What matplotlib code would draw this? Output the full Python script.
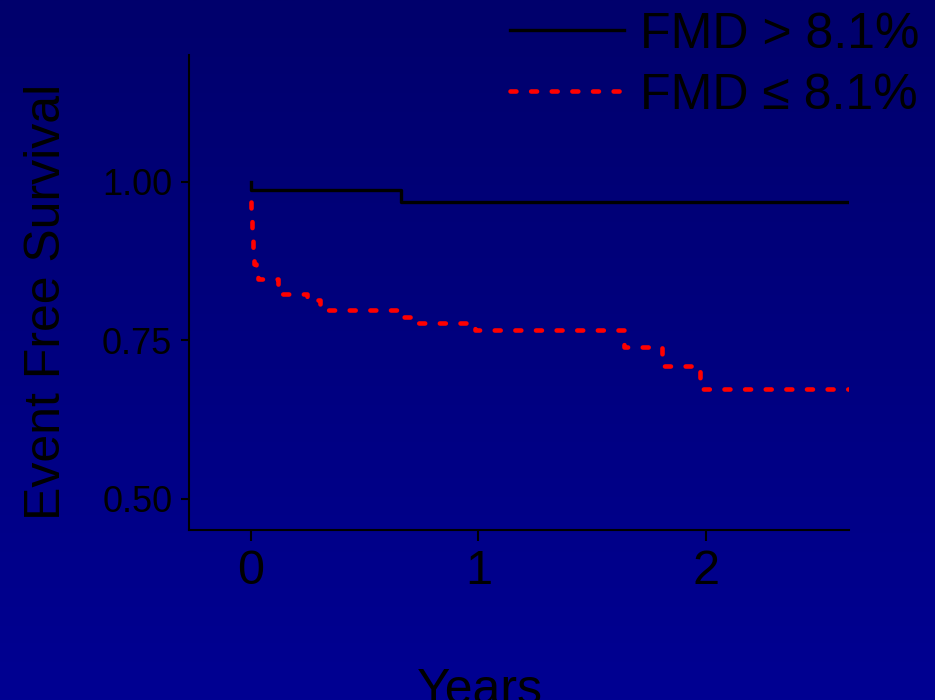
import numpy as np
import matplotlib.pyplot as plt

plt.rcParams['font.family'] = ['Liberation Sans', 'DejaVu Sans']

# Kaplan-Meier step data (years, survival)
t_high = [0.0, 0.0, 0.66, 2.63]
s_high = [1.0, 0.987, 0.968, 0.968]

t_low = [0.0, 0.002, 0.004, 0.008, 0.012, 0.02, 0.03, 0.119, 0.246, 0.303,
         0.655, 0.73, 0.985, 1.64, 1.807, 1.974, 2.63]
s_low = [0.968, 0.94, 0.91, 0.885, 0.87, 0.855, 0.847, 0.823, 0.814, 0.798,
         0.787, 0.778, 0.767, 0.740, 0.710, 0.674, 0.674]

labels = ['FMD > 8.1%', 'FMD \u2264 8.1%']
yticks = [0.50, 0.75, 1.00]
xticks = [0, 1, 2]

fig = plt.figure(figsize=(9.35, 7), dpi=100)

# blue gradient background
bg = fig.add_axes([0, 0, 1, 1], zorder=-1)
grad = np.linspace(0, 1, 256).reshape(-1, 1)
top = np.array([0, 0, 0x6c]) / 255
bot = np.array([0, 0, 0x92]) / 255
img = top + grad[..., None] * (bot - top)
bg.imshow(img, aspect='auto', extent=[0, 1, 0, 1])
bg.axis('off')

ax = fig.add_axes([0.2021, 0.2429, 0.7059, 0.6785])
ax.patch.set_alpha(0)

l1, = ax.plot(t_high, s_high, drawstyle='steps-post', color='black', lw=2.4)
l2, = ax.plot(t_low, s_low, drawstyle='steps-post', color='red', lw=3.3,
              linestyle=(0, (1.3, 3.2)), dash_capstyle='round')

ax.set_xlim(-0.273, 2.63)
ax.set_ylim(0.451, 1.20)
ax.set_xticks(xticks)
ax.set_yticks(yticks)
ax.set_yticklabels(['%.2f' % v for v in yticks])

for side in ['top', 'right']:
    ax.spines[side].set_visible(False)
for side in ['left', 'bottom']:
    ax.spines[side].set_linewidth(1.5)
    ax.spines[side].set_color('black')

ax.tick_params(axis='y', labelsize=26, length=6, width=1.5, pad=6, colors='black')
ax.tick_params(axis='x', labelsize=35, length=8, width=1.5, pad=6, colors='black')

ax.set_ylabel('Event Free Survival', fontsize=36, color='black')
ax.yaxis.set_label_coords(-0.18, 0.48)
ax.set_xlabel('Years', fontsize=36, color='black')
ax.xaxis.set_label_coords(0.441, -0.29)

fig.legend([l1, l2], labels, loc='upper left', bbox_to_anchor=(510 / 935, 0.983),
           frameon=False, fontsize=36, borderpad=0, handlelength=2.28,
           handletextpad=0.32, labelspacing=0.3, labelcolor='black',
           borderaxespad=0)

fig.savefig('out.png', dpi=100)
